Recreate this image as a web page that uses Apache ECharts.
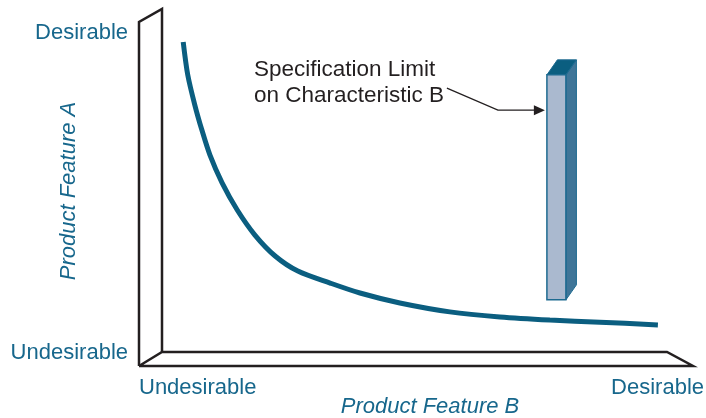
<!DOCTYPE html>
<html>
<head>
<meta charset="utf-8">
<script src="https://cdn.jsdelivr.net/npm/echarts@6/dist/echarts.min.js"></script>
<style>
html,body{margin:0;padding:0;background:#fff;}
#chart{width:706px;height:418px;}
</style>
</head>
<body>
<div id="chart"></div>
<script>
// Trade-off curve: Product Feature B (x) vs Product Feature A (y), scale 0..100
var curveX = [4.2, 5.1, 6.5, 7.9, 9.5, 11.9, 14.9, 18.4, 22.4, 26.9, 33.3, 39.2, 47.1, 57.0, 66.9, 76.8, 86.7, 98.2];
var curveY = [90.4, 80.8, 72.0, 64.7, 57.4, 49.3, 41.4, 34.1, 28.0, 23.6, 20.1, 17.2, 14.3, 11.7, 10.2, 9.3, 8.7, 7.9];
// Specification limit on characteristic B: [x position, bottom, top, arrow level]
var specLimit = [78.1, 15.2, 80.8, 70.5];
var axisTexts = {yLow: 'Undesirable', yHigh: 'Desirable', xLow: 'Undesirable', xHigh: 'Desirable'};
var axisNames = {x: 'Product Feature B', y: 'Product Feature A'};
var annotation = ['Specification Limit', 'on Characteristic B'];

var curveData = curveX.map(function (x, i) { return [x, curveY[i]]; });

var frameColor = '#231f20';
var labelColor = '#17678c';
var fontFam = 'Liberation Sans, Arial, sans-serif';
var labelFont = '22px ' + fontFam;

var chart = echarts.init(document.getElementById('chart'), null, {renderer: 'canvas'});

function renderFrame(params, api) {
  var cs = params.coordSys;
  var l = cs.x, t = cs.y, r = cs.x + cs.width, b = cs.y + cs.height;
  var st = {stroke: frameColor, lineWidth: 2.5, fill: null, lineJoin: 'miter'};
  return {
    type: 'group',
    children: [
      {type: 'polyline', shape: {points: [[l - 23, b + 14], [l - 23, t + 13], [l, t], [l, b]]}, style: st},
      {type: 'polyline', shape: {points: [[l - 23, b + 14], [l, b], [r, b], [r + 26, b + 14], [l - 23, b + 14]]}, style: st}
    ]
  };
}

function renderSpec(params, api) {
  var x = api.value(0), lo = api.value(1), hi = api.value(2), ay = api.value(3);
  var pTop = api.coord([x, hi]);
  var pBot = api.coord([x, lo]);
  var pArrow = api.coord([x, ay]);
  var hw = 9.5, dx = 10.5, dy = -15;
  var xl = pTop[0] - hw, xr = pTop[0] + hw, yt = pTop[1], yb = pBot[1];
  var edge = '#1d6a90';
  var tip = [xl - 2, pArrow[1]];
  return {
    type: 'group',
    children: [
      {type: 'polygon', shape: {points: [[xr, yt], [xr + dx, yt + dy], [xr + dx, yb + dy], [xr, yb]]},
        style: {fill: '#3f7598', stroke: edge, lineWidth: 1}},
      {type: 'polygon', shape: {points: [[xl, yt], [xl + dx, yt + dy], [xr + dx, yt + dy], [xr, yt]]},
        style: {fill: '#0b5e80', stroke: edge, lineWidth: 1}},
      {type: 'rect', shape: {x: xl, y: yt, width: xr - xl, height: yb - yt},
        style: {fill: '#aab9cf', stroke: edge, lineWidth: 1.5}},
      {type: 'polyline', shape: {points: [[tip[0] - 98, tip[1] - 22], [tip[0] - 47, tip[1]], [tip[0] - 9, tip[1]]]},
        style: {stroke: frameColor, lineWidth: 1.3, fill: null}},
      {type: 'polygon', shape: {points: [[tip[0], tip[1]], [tip[0] - 11, tip[1] - 5], [tip[0] - 11, tip[1] + 5]]},
        style: {fill: frameColor}}
    ]
  };
}

var option = {
  backgroundColor: '#ffffff',
  animation: false,
  grid: {left: 162, top: 9, right: 39, bottom: 66},
  xAxis: {type: 'value', min: 0, max: 100, show: false},
  yAxis: {type: 'value', min: 0, max: 100, show: false},
  series: [
    {type: 'custom', renderItem: renderFrame, data: [[0, 0]], silent: true, z: 1},
    {type: 'line', data: curveData, smooth: 0.3, symbol: 'none', z: 3,
      lineStyle: {color: '#0b5e80', width: 5, cap: 'butt'}},
    {type: 'custom', renderItem: renderSpec, data: [specLimit], z: 4,
      encode: {x: 0, y: [1, 2]}}
  ],
  graphic: [
    {type: 'text', x: 128, y: 33, style: {text: axisTexts.yHigh, font: labelFont, fill: labelColor, align: 'right', verticalAlign: 'middle'}},
    {type: 'text', x: 128, y: 353, style: {text: axisTexts.yLow, font: labelFont, fill: labelColor, align: 'right', verticalAlign: 'middle'}},
    {type: 'text', x: 139, y: 388, style: {text: axisTexts.xLow, font: labelFont, fill: labelColor, align: 'left', verticalAlign: 'middle'}},
    {type: 'text', x: 704, y: 388, style: {text: axisTexts.xHigh, font: labelFont, fill: labelColor, align: 'right', verticalAlign: 'middle'}},
    {type: 'text', x: 430, y: 407, style: {text: axisNames.x, font: 'italic ' + labelFont, fill: labelColor, align: 'center', verticalAlign: 'middle'}},
    {type: 'text', x: 69, y: 191, rotation: Math.PI / 2, style: {text: axisNames.y, font: 'italic ' + labelFont, fill: labelColor, align: 'center', verticalAlign: 'middle'}},
    {type: 'text', x: 254, y: 83, style: {text: annotation.join('\n'), font: '22.5px ' + fontFam, fill: '#231f20', lineHeight: 26, align: 'left', verticalAlign: 'middle'}}
  ]
};
chart.setOption(option);
</script>
</body>
</html>
